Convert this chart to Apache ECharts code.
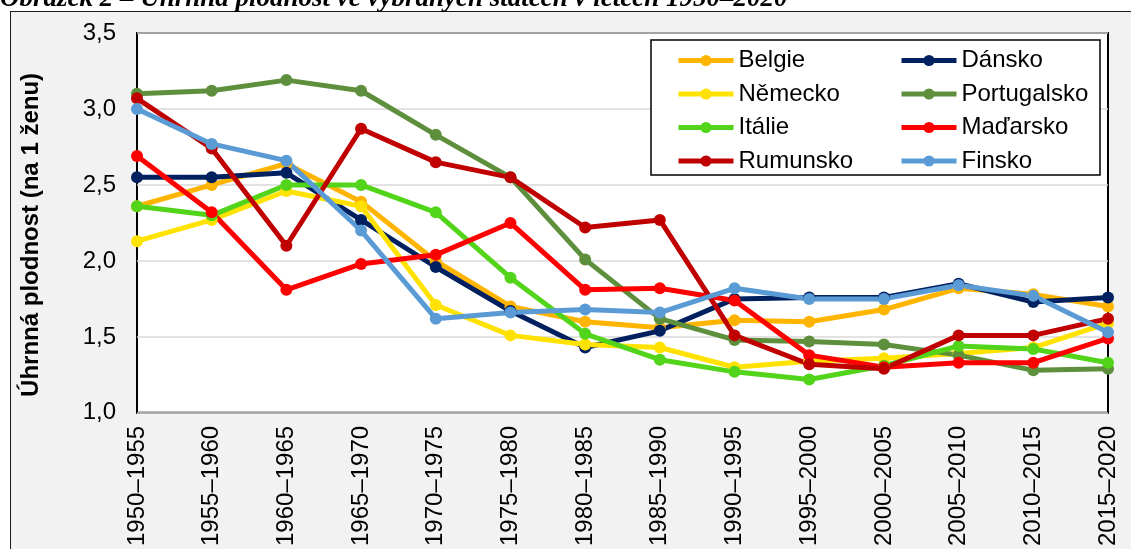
<!DOCTYPE html>
<html>
<head>
<meta charset="utf-8">
<title>Úhrnná plodnost</title>
<script src="https://cdn.jsdelivr.net/npm/echarts@6/dist/echarts.min.js"></script>
<style>
	html, body { margin: 0; padding: 0; background: #fff; }
	#wrap { position: relative; width: 1131px; height: 549px; overflow: hidden; }
	/* šedá plocha grafu */
	#bg { position: absolute; left: 10px; top: 11px; right: -5px; bottom: -5px; background: #f2f2f2; border-top: 1.5px solid #1a1a1a; border-left: 1.5px solid #1a1a1a; }
	#container { position: absolute; left: 0; top: 0; width: 1131px; height: 549px; }
</style>
</head>
<body>
<div id="wrap">
	<div id="bg"></div>
	<div id="container"></div>
</div>
<script>
	// období
	var obdobi = ['1950–1955', '1955–1960', '1960–1965', '1965–1970', '1970–1975', '1975–1980', '1980–1985',
		'1985–1990', '1990–1995', '1995–2000', '2000–2005', '2005–2010', '2010–2015', '2015–2020'];

	// úhrnná plodnost podle států
	var belgie = [2.36, 2.50, 2.64, 2.39, 2.00, 1.70, 1.60, 1.56, 1.61, 1.60, 1.68, 1.82, 1.78, 1.70];
	var dansko = [2.55, 2.55, 2.58, 2.27, 1.96, 1.67, 1.43, 1.54, 1.75, 1.76, 1.76, 1.85, 1.73, 1.76];
	var nemecko = [2.13, 2.27, 2.46, 2.36, 1.71, 1.51, 1.45, 1.43, 1.30, 1.34, 1.36, 1.39, 1.43, 1.59];
	var portugalsko = [3.10, 3.12, 3.19, 3.12, 2.83, 2.55, 2.01, 1.62, 1.48, 1.47, 1.45, 1.38, 1.28, 1.29];
	var italie = [2.36, 2.30, 2.50, 2.50, 2.32, 1.89, 1.52, 1.35, 1.27, 1.22, 1.31, 1.44, 1.42, 1.33];
	var madarsko = [2.69, 2.32, 1.81, 1.98, 2.04, 2.25, 1.81, 1.82, 1.74, 1.38, 1.30, 1.33, 1.33, 1.49];
	var rumunsko = [3.07, 2.74, 2.10, 2.87, 2.65, 2.55, 2.22, 2.27, 1.51, 1.32, 1.29, 1.51, 1.51, 1.62];
	var finsko = [3.00, 2.77, 2.66, 2.20, 1.62, 1.66, 1.68, 1.66, 1.82, 1.75, 1.75, 1.84, 1.77, 1.53];

	var sloupec1 = ['Belgie', 'Německo', 'Itálie', 'Rumunsko'];
	var sloupec2 = ['Dánsko', 'Portugalsko', 'Maďarsko', 'Finsko'];

	var font = '"Liberation Sans", Arial, sans-serif';

	function rada(name, data, color) {
		return {
			name: name,
			type: 'line',
			data: data,
			color: color,
			symbol: 'circle',
			symbolSize: 12,
			lineStyle: { width: 5, color: color },
			itemStyle: { color: color },
			emphasis: { disabled: true },
			animation: false
		};
	}

	var legendaStyl = {
		orient: 'vertical',
		top: 42,
		itemWidth: 55,
		itemHeight: 14,
		itemGap: 6.5,
		lineStyle: { width: 5 },
		textStyle: { fontFamily: font, fontSize: 24, color: '#000', lineHeight: 27 }
	};

	var myChart = echarts.init(document.getElementById('container'));
	var option = {
		backgroundColor: 'transparent',
		graphic: [{
			type: 'text',
			style: {
				x: 0,
				y: 13,
				text: 'Obrázek 2 – Úhrnná plodnost ve vybraných státech v letech 1950–2020',
				font: 'italic bold 27px "Liberation Serif", "Times New Roman", serif',
				fill: '#000',
				verticalAlign: 'bottom'
			}
		}, {
			type: 'rect',
			shape: { x: 651, y: 40, width: 449, height: 135 },
			style: { fill: '#fff', stroke: '#000', lineWidth: 1.5 },
			z: 1
		}],
		legend: [
			Object.assign({ left: 671, data: sloupec1, z: 5 }, legendaStyl),
			Object.assign({ left: 894, data: sloupec2, z: 5 }, legendaStyl)
		],
		grid: {
			left: 137,
			right: 23,
			top: 33,
			bottom: 133,
			show: true,
			backgroundColor: '#fff',
			borderColor: '#000',
			borderWidth: 2
		},
		xAxis: {
			type: 'category',
			data: obdobi,
			boundaryGap: false,
			axisLine: { show: false },
			axisTick: { show: false },
			axisLabel: { rotate: 90, margin: 13, fontFamily: font, fontSize: 24, color: '#000', interval: 0 }
		},
		yAxis: {
			type: 'value',
			min: 1,
			max: 3.5,
			interval: 0.5,
			name: 'Úhrnná plodnost (na 1 ženu)',
			nameLocation: 'middle',
			nameRotate: 90,
			nameGap: 94,
			nameTextStyle: { fontFamily: font, fontSize: 24, fontWeight: 'bold', color: '#000', padding: [0, 24, 0, 0] },
			axisLine: { show: false },
			axisTick: { show: false },
			splitLine: { lineStyle: { color: '#d9d9d9', width: 1.5 } },
			axisLabel: {
				margin: 21,
				fontFamily: font,
				fontSize: 24,
				color: '#000',
				formatter: function (v) { return v.toFixed(1).replace('.', ','); }
			}
		},
		series: [
			rada('Belgie', belgie, '#FFB400'),
			rada('Dánsko', dansko, '#002060'),
			rada('Německo', nemecko, '#FFE200'),
			rada('Portugalsko', portugalsko, '#5E8F3D'),
			rada('Itálie', italie, '#52D41A'),
			rada('Maďarsko', madarsko, '#FF0000'),
			rada('Rumunsko', rumunsko, '#C00000'),
			rada('Finsko', finsko, '#5B9BD5')
		]
	};
	myChart.setOption(option);
</script>
</body>
</html>
